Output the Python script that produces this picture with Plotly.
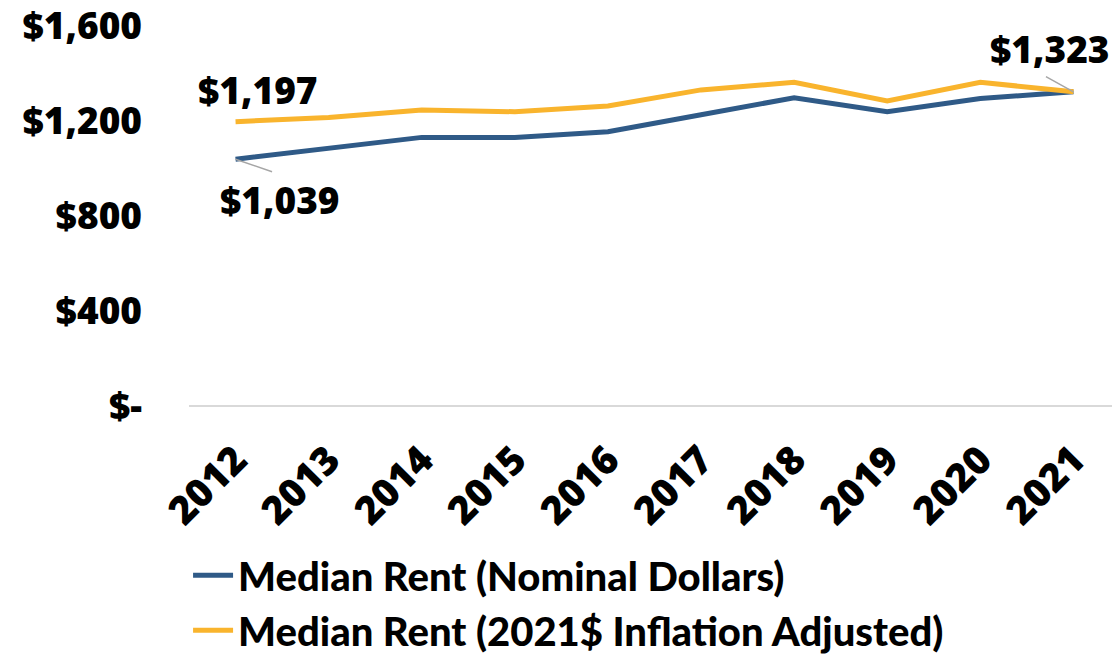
import plotly.graph_objects as go

years = ["2012", "2013", "2014", "2015", "2016", "2017", "2018", "2019", "2020", "2021"]
nominal = [1039, 1087, 1131, 1131, 1155, 1226, 1298, 1239, 1295, 1323]
adjusted = [1197, 1215, 1246, 1239, 1263, 1331, 1363, 1284, 1363, 1323]
y_ticks = [0, 400, 800, 1200, 1600]
y_tick_labels = ["$-", "$400", "$800", "$1,200", "$1,600"]

BLUE = "#2f5a87"
GOLD = "#f9b42d"
FONT = "Open Sans"

fig = go.Figure()
fig.add_trace(go.Scatter(
    x=years, y=nominal, mode="lines", name="Median Rent (Nominal Dollars)",
    line=dict(color=BLUE, width=5),
))
fig.add_trace(go.Scatter(
    x=years, y=adjusted, mode="lines", name="Median Rent (2021$ Inflation Adjusted)",
    line=dict(color=GOLD, width=5),
))

label_font = dict(family=FONT, size=37, color="black", weight=800)


def point_label(i, y, text, dx, dy, lead=None):
    # category axis: annotations are placed by index
    fig.add_annotation(xref="x", yref="y", x=i, y=y, text=text, showarrow=False,
                       xshift=dx, yshift=dy, font=label_font)
    if lead:
        # thin grey leader line from the point toward the label
        fig.add_annotation(xref="x", yref="y", x=i, y=y, text="", showarrow=True,
                           arrowhead=0, arrowwidth=1.5, arrowcolor="#a6a6a6",
                           ax=lead[0], ay=lead[1])


point_label(0, adjusted[0], "$1,197", 22, 32)
point_label(0, nominal[0], "$1,039", 44, -40, lead=(38, 13))
point_label(len(years) - 1, adjusted[-1], "$1,323", -23, 43, lead=(-29, -16))

fig.update_xaxes(
    type="category", range=[-0.5, 9.5], showgrid=False, showline=False,
    tickangle=-45, tickfont=dict(family=FONT, size=39, color="black", weight=800),
    ticks="", automargin=False, ticklabelstandoff=22,
)
fig.update_yaxes(
    range=[0, 1600], tickvals=y_ticks, ticktext=y_tick_labels,
    showgrid=False, zeroline=True, zerolinecolor="#d9d9d9", zerolinewidth=2,
    tickfont=dict(family=FONT, size=37, color="black", weight=800),
    ticks="", ticklabelstandoff=46, automargin=False, ticklabeloverflow="allow",
)
# the page body adds an 8px margin, so the figure is 8px smaller on each side
fig.update_layout(
    width=1112, height=649,
    margin=dict(l=181, r=0, t=18, b=251, autoexpand=False),
    paper_bgcolor="white", plot_bgcolor="white",
    showlegend=True,
    legend=dict(orientation="v", x=-0.001, xanchor="left", y=-0.36, yanchor="top",
                font=dict(family="Lato", size=40, color="black", weight=900),
                tracegroupgap=0, itemwidth=40),
)

fig.write_html("out.html")
